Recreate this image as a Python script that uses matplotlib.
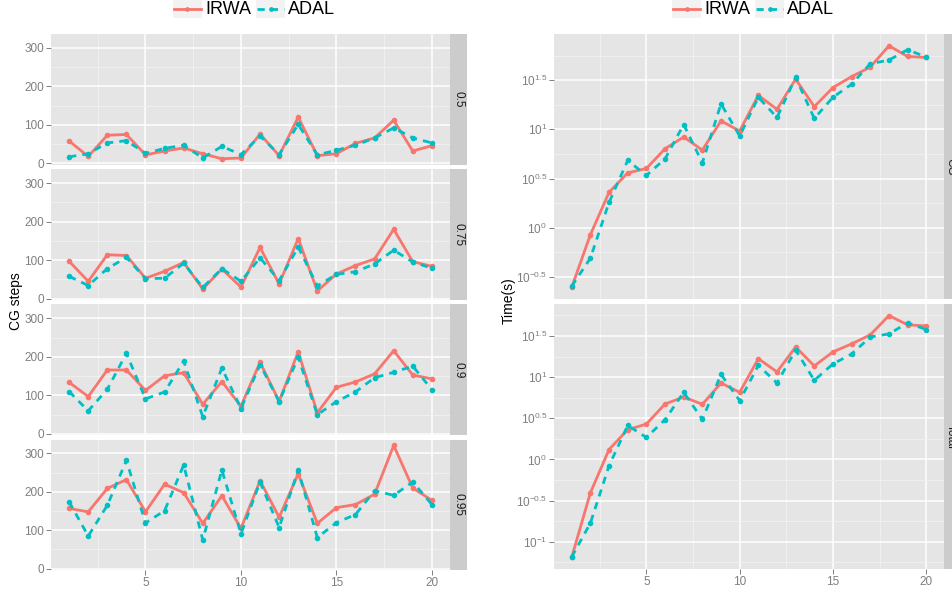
import matplotlib
matplotlib.use("Agg")
import matplotlib.pyplot as plt
import numpy as np
from matplotlib.lines import Line2D
from matplotlib.patches import Rectangle

plt.rcParams["font.family"] = ["Liberation Sans", "DejaVu Sans"]
plt.rcParams["mathtext.fontset"] = "custom"
plt.rcParams["mathtext.rm"] = "Liberation Sans"
plt.rcParams["mathtext.it"] = "Liberation Sans:italic"

# --- data ---
problem_size = list(range(1, 21))
quantiles = ["0.5", "0.75", "0.9", "0.95"]

irwa_cg_steps = {
    "0.5": [58, 18, 73, 75, 22, 32, 40, 25, 12, 14, 76, 20, 120, 20, 25, 52, 66, 112, 32, 46],
    "0.75": [97, 45, 114, 112, 53, 71, 94, 25, 77, 30, 133, 38, 156, 20, 64, 86, 103, 180, 96, 84],
    "0.9": [134, 97, 166, 166, 113, 151, 159, 77, 136, 72, 186, 85, 213, 55, 121, 135, 156, 216, 153, 143],
    "0.95": [157, 148, 209, 232, 148, 220, 198, 118, 190, 105, 229, 134, 247, 118, 159, 167, 194, 321, 210, 178],
}
adal_cg_steps = {
    "0.5": [17, 25, 53, 59, 26, 39, 47, 14, 44, 23, 71, 23, 101, 22, 34, 47, 66, 92, 66, 53],
    "0.75": [58, 34, 78, 107, 52, 53, 92, 29, 78, 45, 106, 47, 134, 33, 63, 70, 90, 126, 95, 79],
    "0.9": [110, 60, 116, 209, 91, 109, 189, 45, 171, 66, 180, 84, 199, 50, 84, 109, 146, 160, 176, 115],
    "0.95": [174, 85, 165, 282, 119, 151, 270, 75, 257, 91, 226, 107, 257, 81, 120, 141, 203, 191, 226, 167],
}

time_kinds = ["CG", "Total"]
irwa_time = {
    "CG": [0.248, 0.849, 2.29, 3.61, 4.00, 6.35, 8.36, 6.15, 12.2, 9.62,
           22.2, 16.0, 32.4, 17.0, 26.6, 34.4, 43.0, 70.8, 55.1, 53.8],
    "Total": [0.0647, 0.393, 1.32, 2.30, 2.69, 4.72, 5.74, 4.68, 8.49, 6.55,
              16.8, 11.6, 23.3, 13.7, 20.3, 25.4, 32.7, 56.1, 43.3, 42.0],
}
adal_time = {
    "CG": [0.254, 0.490, 1.81, 4.83, 3.40, 5.01, 11.2, 4.57, 18.2, 8.55,
           21.2, 13.2, 33.7, 12.9, 21.2, 28.8, 46.5, 50.6, 64.6, 54.3],
    "Total": [0.0653, 0.168, 0.838, 2.59, 1.85, 3.04, 6.55, 3.07, 10.8, 5.18,
              13.9, 8.49, 21.4, 9.16, 14.5, 19.1, 30.8, 33.6, 45.7, 37.9],
}

log_tick_exps = [-1, -0.5, 0, 0.5, 1, 1.5]
log_tick_labels = [r"$10^{-1}$", r"$10^{-0.5}$", r"$10^{0}$", r"$10^{0.5}$", r"$10^{1}$", r"$10^{1.5}$"]

# --- style ---
IRWA_COLOR = "#F8766D"
ADAL_COLOR = "#00BFC4"
PANEL_BG = "#E5E5E5"
MINOR_GRID = "#F2F2F2"
STRIP_BG = "#CCCCCC"
TICK_COLOR = "#7F7F7F"
LW = 2.0
MS = 3.0
DASH = (0, (2.6, 2.2))

W, H = 953, 594
fig = plt.figure(figsize=(W / 100, H / 100), dpi=100)


def box(l, t, r, b):
    return [l / W, 1 - b / H, (r - l) / W, (b - t) / H]


def expand(lo, hi, frac=0.05):
    pad = (hi - lo) * frac
    return lo - pad, hi + pad


def style_panel(ax, show_x):
    ax.set_facecolor(PANEL_BG)
    for s in ax.spines.values():
        s.set_visible(False)
    ax.grid(True, which="major", color="white", linewidth=1.1)
    ax.grid(True, which="minor", color=MINOR_GRID, linewidth=0.6)
    ax.set_axisbelow(True)
    ax.tick_params(which="major", colors=TICK_COLOR, labelsize=8.5, length=3.5, width=0.7, pad=1.5)
    ax.tick_params(which="minor", length=0)
    ax.set_xlim(expand(min(problem_size), max(problem_size)))
    ax.set_xticks([5, 10, 15, 20])
    ax.set_xticks([2.5, 7.5, 12.5, 17.5], minor=True)
    if not show_x:
        ax.tick_params(axis="x", which="both", length=0, labelbottom=False)


def add_strip(l, t, r, b, label, text_x=0.5):
    sax = fig.add_axes(box(l, t, r, b))
    sax.set_facecolor(STRIP_BG)
    sax.set_xticks([])
    sax.set_yticks([])
    for s in sax.spines.values():
        s.set_visible(False)
    sax.text(text_x, 0.5, label, rotation=-90, ha="center", va="center",
             fontsize=8.5, color="#1A1A1A", transform=sax.transAxes)


def draw_series(ax, x, irwa, adal):
    ax.plot(x, irwa, color=IRWA_COLOR, linewidth=LW, marker="o", markersize=MS)
    ax.plot(x, adal, color=ADAL_COLOR, linewidth=LW, marker="o", markersize=MS, linestyle=DASH)


def add_legend(x0):
    y_top, y_bot = 0.5, 17.5
    y_mid = 9.0
    for dx, label, color, ls in [(0, "IRWA", IRWA_COLOR, "-"),
                                 (83, "ADAL", ADAL_COLOR, DASH)]:
        l = x0 + dx
        fig.patches.append(Rectangle((l / W, 1 - y_bot / H), 29 / W, (y_bot - y_top) / H,
                                     transform=fig.transFigure, facecolor="#F2F2F2",
                                     edgecolor="none"))
        fig.lines.append(Line2D([(l + 1) / W, (l + 28) / W], [1 - y_mid / H] * 2,
                                transform=fig.transFigure, color=color, linewidth=LW,
                                linestyle=ls))
        fig.lines.append(Line2D([(l + 14.5) / W], [1 - y_mid / H], transform=fig.transFigure,
                                color=color, marker="o", markersize=MS - 0.6, linestyle="none"))
        fig.text((l + 32) / W, 1 - 9.5 / H, label, ha="left", va="center",
                 fontsize=13, color="black")


# --- left column: CG steps per quantile ---
all_steps = [v for q in quantiles for v in irwa_cg_steps[q] + adal_cg_steps[q]]
steps_lim = expand(min(all_steps), max(all_steps))
left_rows = [(33.7, 164.7), (169, 300), (304.3, 435.3), (439.5, 570)]
for i, (q, (t, b)) in enumerate(zip(quantiles, left_rows)):
    ax = fig.add_axes(box(51, t, 450, b))
    style_panel(ax, show_x=(i == len(quantiles) - 1))
    draw_series(ax, problem_size, irwa_cg_steps[q], adal_cg_steps[q])
    ax.set_ylim(steps_lim)
    ax.set_yticks([0, 100, 200, 300])
    ax.set_yticks([50, 150, 250], minor=True)
    add_strip(450, t, 467, b, q)

fig.text(16 / W, 1 - 301 / H, "CG steps", rotation=90, ha="center", va="center", fontsize=10)

# --- right column: time on log scale ---
right_rows = [(33.7, 299.3), (303.5, 569.3)]
for i, (kind, (t, b)) in enumerate(zip(time_kinds, right_rows)):
    ax = fig.add_axes(box(554, t, 944, b))
    style_panel(ax, show_x=(i == len(time_kinds) - 1))
    draw_series(ax, problem_size, irwa_time[kind], adal_time[kind])
    ax.set_yscale("log")
    vals = np.log10(irwa_time[kind] + adal_time[kind])
    lo, hi = expand(vals.min(), vals.max())
    ax.set_yticks([10 ** e for e in log_tick_exps], log_tick_labels)
    ax.set_yticks([10 ** (e + 0.25) for e in [-1.5] + log_tick_exps], minor=True)
    ax.yaxis.set_minor_formatter(matplotlib.ticker.NullFormatter())
    ax.set_ylim(10 ** lo, 10 ** hi)
    add_strip(944, t, 961, b, kind, text_x=0.4)

fig.text(509 / W, 1 - 301 / H, "Time(s)", rotation=90, ha="center", va="center", fontsize=10)

add_legend(173)
add_legend(672)

fig.savefig("out.png", dpi=100)
